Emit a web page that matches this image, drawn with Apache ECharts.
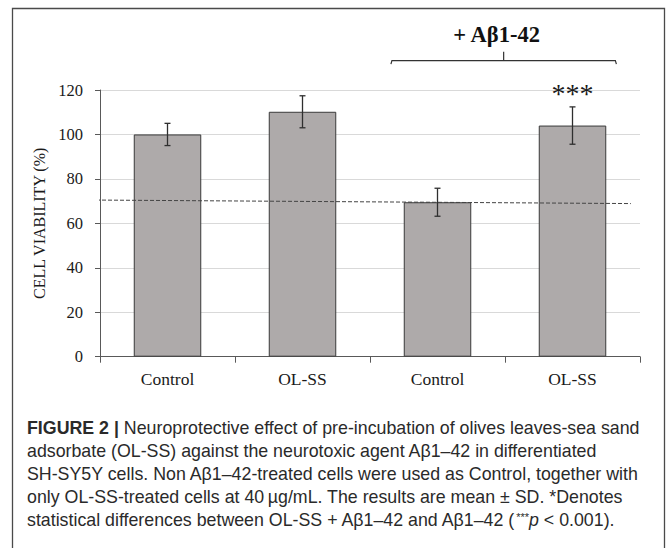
<!DOCTYPE html>
<html><head><meta charset="utf-8">
<script src="https://cdn.jsdelivr.net/npm/echarts@6/dist/echarts.min.js"></script>
<style>html,body{margin:0;padding:0;background:#fff}#c{width:667px;height:548px}</style>
</head><body><div id="c"></div>
<script>
const categories = ['Control', 'OL-SS', 'Control', 'OL-SS'];
const viability = [100, 110.2, 69.5, 104.0];
const sd = [5.0, 7.2, 6.3, 8.4];
const significance = ['', '', '', '***'];
const yTicks = [0, 20, 40, 60, 80, 100, 120];
const thresholdX = [-0.0185, 0.983];
const thresholdY = [70.5, 68.9];
const groupLabel = '+ Aβ1-42';
const groupCats = [2, 3];
const captionLines = [
  '{b|FIGURE 2 |} Neuroprotective effect of pre-incubation of olives leaves-sea sand',
  'adsorbate (OL-SS) against the neurotoxic agent Aβ1–42 in differentiated',
  'SH-SY5Y cells. Non Aβ1–42-treated cells were used as Control, together with',
  'only OL-SS-treated cells at 40\u2009µg/mL. The results are mean ± SD. *Denotes',
  'statistical differences between OL-SS + Aβ1–42 and Aβ1–42 ({s|***}{i|p} < 0.001).'
];

const SERIF = '"Liberation Serif", "Times New Roman", serif';
const SANS = '"Liberation Sans", Arial, sans-serif';
const CAP = 17.8;
const chart = echarts.init(document.getElementById('c'), null, {renderer: 'svg'});

const gridTop = 90, gridLeft = 100, gridRight = 27, gridBottom = 191.3;

chart.setOption({
  animation: false,
  backgroundColor: '#fff',
  grid: {left: gridLeft, right: gridRight, top: gridTop, bottom: gridBottom},
  xAxis: [{
    type: 'category',
    data: categories,
    axisLine: {lineStyle: {color: '#595959', width: 1}},
    axisTick: {show: true, length: 6, lineStyle: {color: '#595959'}},
    axisLabel: {margin: 13, fontFamily: SERIF, fontSize: 17.5, color: '#1a1a1a'},
    splitLine: {show: false}
  }, {
    type: 'value', min: 0, max: 1, show: false
  }],
  yAxis: {
    type: 'value',
    min: yTicks[0], max: yTicks[yTicks.length - 1], interval: yTicks[1] - yTicks[0],
    name: 'CELL VIABILITY (%)',
    nameLocation: 'middle',
    nameGap: 48,
    nameTextStyle: {fontFamily: SERIF, fontSize: 16, color: '#1a1a1a'},
    axisLine: {show: true, lineStyle: {color: '#595959', width: 1}},
    axisTick: {show: true, length: 5, lineStyle: {color: '#595959'}},
    axisLabel: {margin: 17, fontFamily: SERIF, fontSize: 16.5, color: '#1a1a1a'},
    splitLine: {lineStyle: {color: '#d9d9d9', width: 1}}
  },
  series: [{
    type: 'bar',
    data: viability,
    barWidth: '50%',
    itemStyle: {color: '#aeaaaa', borderColor: '#3a3a3a', borderWidth: 1},
    z: 2
  }, {
    type: 'line',
    xAxisIndex: 1,
    data: thresholdX.map((x, i) => [x, thresholdY[i]]),
    symbol: 'none',
    clip: false,
    silent: true,
    lineStyle: {color: '#444', width: 1, type: [4, 2]},
    z: 3
  }, {
    type: 'custom',
    data: categories.map((c, i) => [i, viability[i], sd[i]]),
    z: 4,
    renderItem: function (params, api) {
      const i = api.value(0), m = api.value(1), e = api.value(2);
      const top = api.coord([i, m + e]), bot = api.coord([i, m - e]);
      const cap = 3;
      const st = {stroke: '#2f2f2f', lineWidth: 1.3};
      const children = [
        {type: 'line', shape: {x1: top[0], y1: top[1], x2: bot[0], y2: bot[1]}, style: st},
        {type: 'line', shape: {x1: top[0] - cap, y1: top[1], x2: top[0] + cap, y2: top[1]}, style: st},
        {type: 'line', shape: {x1: bot[0] - cap, y1: bot[1], x2: bot[0] + cap, y2: bot[1]}, style: st}
      ];
      const s = significance[params.dataIndex];
      if (s) {
        children.push({type: 'text', x: top[0], y: top[1] - 13,
          style: {text: s, font: '28px ' + SERIF, fill: '#1a1a1a', align: 'center', verticalAlign: 'middle'}});
      }
      return {type: 'group', children: children};
    }
  }]
});

// Bracket for the Aβ1-42 group, positioned from the category axis
const cA = chart.convertToPixel({xAxisIndex: 0}, groupCats[0]);
const cB = chart.convertToPixel({xAxisIndex: 0}, groupCats[1]);
const band = cB - cA;
const bx0 = cA - band * 0.345, bx1 = cB + band * 0.325;
const bmid = (bx0 + bx1) / 2;
const by = gridTop - 29.3;
const bst = {stroke: '#333', lineWidth: 1.2, fill: 'none'};

const graphics = [
  {type: 'rect', shape: {x: 12.5, y: 8.5, width: 652, height: 600}, style: {stroke: '#4a4a4a', lineWidth: 1.3, fill: 'none'}, silent: true},
  {type: 'polyline', shape: {points: [[bx0, by + 3.5], [bx0 + 1, by], [bx1 - 1, by], [bx1, by + 3.5]]}, style: bst},
  {type: 'line', shape: {x1: bmid, y1: by, x2: bmid, y2: by - 9}, style: bst},
  {type: 'text', x: bmid - 7, y: 34, style: {text: groupLabel, font: 'bold 22.5px ' + SERIF, fill: '#111', align: 'center', verticalAlign: 'middle'}}
];
captionLines.forEach(function (line, k) {
  graphics.push({
    type: 'text', x: 27, y: 428 + 23 * k,
    style: {
      text: line, fill: '#2a2a2a', font: CAP + 'px ' + SANS, align: 'left', verticalAlign: 'middle',
      rich: {
        b: {fontFamily: SANS, fontSize: CAP, fontWeight: 'bold', fill: '#2a2a2a'},
        s: {fontFamily: SANS, fontSize: 11, fill: '#2a2a2a', verticalAlign: 'top', padding: [0, 0, 7, 0]},
        i: {fontFamily: SANS, fontSize: CAP, fontStyle: 'italic', fill: '#2a2a2a'}
      }
    }
  });
});
chart.setOption({graphic: graphics});
</script>
</body></html>
